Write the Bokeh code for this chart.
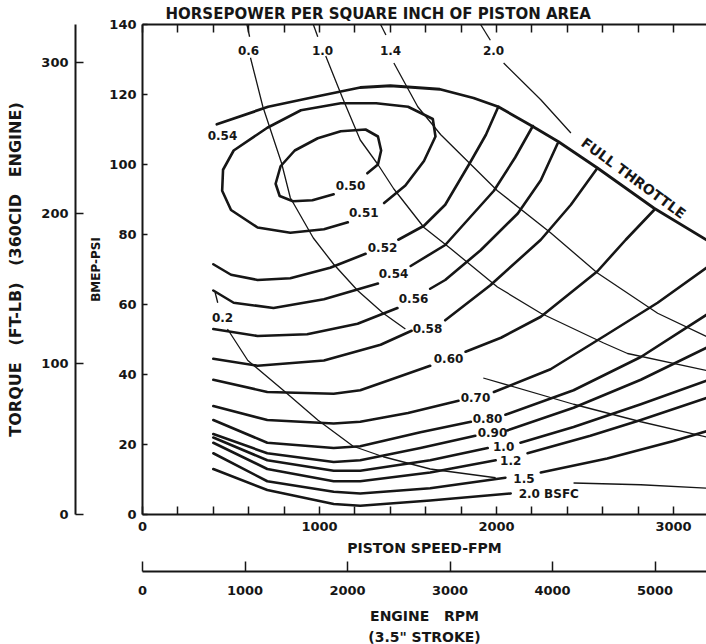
from bokeh.plotting import figure
from bokeh.models import Range1d, LinearAxis, FixedTicker, ColumnDataSource
from bokeh.layouts import row, column
from bokeh.core.properties import value
from bokeh.embed import file_html
from bokeh.resources import INLINE

FONT = "DejaVu Sans"
INK = "#161616"
NB = "\u00a0"

# ------------------------------------------------------------------ data
# axis ticks
piston_major = [0, 1000, 2000, 3000]
piston_minor = [200, 400, 600, 800, 1200, 1400, 1600, 1800, 2200, 2400, 2600, 2800, 3200]
top_ticks = [0, 200, 400, 600, 800, 1000, 1200, 1400, 1600, 1800, 2000, 2200, 2400,
             2600, 2800, 3000, 3200]
bmep_ticks = [0, 20, 40, 60, 80, 100, 120, 140]
torque_ticks = [0, 100, 200, 300]
rpm_ticks = [0, 1000, 2000, 3000, 4000, 5000]

# full throttle line (piston speed fpm, bmep psi)
wot_fpm = [420, 710, 990, 1230, 1400, 1680, 1870, 2010, 2200, 2350, 2570, 2890, 3200]
wot_bmep = [111.5, 116.5, 119.5, 122, 122.5, 121.5, 119, 116.5, 111, 106.5, 99, 87.5, 78]

# BSFC contours
b050_fpm = [1270, 1330, 1348, 1330, 1260, 1120, 990, 860, 780, 752, 775, 850, 960, 1080]
b050_bmep = [97.5, 100, 104, 108, 110, 109.5, 107.5, 104, 99.5, 94.5, 91, 89.5, 89.8, 91.5]
b051_fpm = [1365, 1485, 1590, 1655, 1640, 1500, 1320, 1120, 895, 705, 515, 455, 450, 500, 650,
            835, 1025, 1160]
b051_bmep = [89, 94, 101, 108, 113, 116.5, 117.5, 117.5, 115.5, 110.5, 104, 98.5, 92.5, 87, 82,
             80.5, 81.5, 83.5]
b052a_fpm = [400, 500, 650, 835, 1060, 1260]
b052a_bmep = [71.5, 68.5, 67, 67.5, 70.5, 74.5]
b052b_fpm = [1445, 1590, 1710, 1850, 1940, 2010]
b052b_bmep = [78.5, 82.5, 88.5, 100.5, 108.5, 116.5]
b054a_fpm = [400, 515, 740, 1025, 1330]
b054a_bmep = [64, 60.5, 59, 61.5, 66]
b054b_fpm = [1515, 1710, 1985, 2105, 2205]
b054b_bmep = [71, 77, 92.5, 102, 111]
b056a_fpm = [400, 650, 930, 1215, 1440]
b056a_bmep = [53, 51, 51.5, 54.5, 59]
b056b_fpm = [1625, 1710, 1910, 2120, 2250, 2345]
b056b_bmep = [64.5, 67, 75.5, 86, 95.5, 106]
b058a_fpm = [400, 650, 1025, 1345, 1520]
b058a_bmep = [44.5, 42.5, 44, 48.5, 52.5]
b058b_fpm = [1710, 1965, 2250, 2420, 2570]
b058b_bmep = [55.5, 65.5, 78.5, 88.5, 99]
b060a_fpm = [400, 705, 1080, 1230, 1400, 1625]
b060a_bmep = [38.5, 35, 34.5, 35.5, 38.5, 42.5]
b060b_fpm = [1825, 2025, 2250, 2570, 2730, 2890]
b060b_bmep = [46.5, 50.5, 56.5, 69.5, 78.5, 87]
b070a_fpm = [400, 705, 1080, 1230, 1500, 1785]
b070a_bmep = [31, 27, 26, 26.5, 29, 32.5]
b070b_fpm = [1985, 2305, 2625, 2910, 3200]
b070b_bmep = [35, 41.5, 51.5, 60.5, 71]
b080a_fpm = [400, 705, 1080, 1230, 1570, 1855]
b080a_bmep = [27, 20.5, 19, 19.5, 23.5, 26.5]
b080b_fpm = [2050, 2435, 2815, 3200]
b080b_bmep = [28.5, 35.5, 45, 57.5]
b090a_fpm = [400, 705, 1080, 1230, 1570, 1880]
b090a_bmep = [23, 17.5, 15, 15.5, 19, 22.5]
b090b_fpm = [2060, 2435, 2815, 3200]
b090b_bmep = [24, 30.5, 38.5, 48]
b100a_fpm = [400, 705, 1080, 1230, 1625, 1950]
b100a_bmep = [22, 15.5, 12.5, 12.5, 15.5, 19]
b100b_fpm = [2135, 2435, 2815, 3200]
b100b_bmep = [20.5, 25, 31.5, 38.5]
b120a_fpm = [400, 705, 1080, 1230, 1625, 1995]
b120a_bmep = [20.5, 13, 9.5, 9.5, 12, 15.5]
b120b_fpm = [2175, 2530, 2815, 3200]
b120b_bmep = [17.5, 22.5, 27, 33.5]
b150a_fpm = [400, 705, 1080, 1230, 1625, 2050]
b150a_bmep = [17.5, 9.5, 6.5, 6, 7.5, 10.5]
b150b_fpm = [2250, 2625, 3000, 3200]
b150b_bmep = [12, 16, 21, 24]
b200_fpm = [400, 705, 1080, 1230, 1625, 2080]
b200_bmep = [13, 7, 3, 2.5, 4, 6]

# constant horsepower per square inch lines
hp02s_fpm = [410, 425]
hp02s_bmep = [63.5, 60.5]
hp02a_fpm = [480, 595, 795, 990, 1190, 1360, 1625, 1995]
hp02a_bmep = [53, 44, 35.5, 27, 19.5, 16.5, 13, 10.5]
hp02b_fpm = [2435, 2815, 3200]
hp02b_bmep = [9, 8.5, 7.5]
hp06s_fpm = [590, 605]
hp06s_bmep = [140, 136.5]
hp06a_fpm = [610, 680, 785, 835, 965, 1080, 1215, 1360, 1485]
hp06a_bmep = [130.5, 116.5, 100.5, 90.5, 79, 71.5, 64, 57.5, 53]
hp06b_fpm = [1925, 2435, 2815, 3200]
hp06b_bmep = [39, 31.5, 26.5, 22]
hp10s_fpm = [965, 990]
hp10s_bmep = [140, 136.5]
hp10a_fpm = [1035, 1130, 1230, 1330, 1420, 1590, 1740, 2005, 2250, 2605, 2740, 3200]
hp10a_bmep = [131, 119, 107, 100, 93, 82, 76, 65, 57.5, 49, 46, 41]
hp14s_fpm = [1345, 1375]
hp14s_bmep = [140, 137]
hp14a_fpm = [1420, 1555, 1685, 2005, 2305, 2570, 2910, 3200]
hp14a_bmep = [129, 116.5, 108.5, 92.5, 80.5, 69, 57.5, 50.5]
hp20s_fpm = [1910, 1965]
hp20s_bmep = [140, 135.5]
hp20a_fpm = [2040, 2250, 2420]
hp20a_bmep = [129, 118.5, 109]

# in-chart labels
lab_text = ["0.50", "0.51", "0.52", "0.54", "0.56", "0.58", "0.60", "0.70", "0.80", "0.90",
            "1.0", "1.2", "1.5", "2.0 BSFC", "0.54", "0.2", "0.6", "1.0", "1.4", "2.0"]
lab_fpm = [1175, 1250, 1356, 1418, 1531, 1610, 1729, 1881, 1949, 1977,
           2040, 2080, 2155, 2295, 452, 452, 599, 1017, 1401, 1983]
lab_bmep = [94, 86.3, 76.3, 68.9, 61.7, 53.1, 44.6, 33.4, 27.4, 23.4,
            19.4, 15.4, 10.3, 6, 108.3, 56.3, 132.6, 132.6, 132.6, 132.6]
wot_label = ["FULL THROTTLE"]
wot_label_fpm = [2774]
wot_label_bmep = [96.1]

# ------------------------------------------------------------------ layout
W, H = 706, 644
TL_W = 86
MAIN_W = W - TL_W
MAIN_H = 560
RPM_H = H - MAIN_H
FRAME_TOP = 24
FRAME_BOT = 514
FRAME_LEFT = 142
TORQUE_END = 300 * (FRAME_BOT - FRAME_TOP) / 452.0


def style_axis(ax, size="13px"):
    ax.axis_line_color = INK
    ax.axis_line_width = 2
    ax.major_tick_line_color = INK
    ax.major_tick_line_width = 1.5
    ax.minor_tick_line_color = INK
    ax.minor_tick_line_width = 1.5
    ax.major_label_text_font = FONT
    ax.major_label_text_font_style = "bold"
    ax.major_label_text_font_size = size
    ax.major_label_text_color = INK
    ax.axis_label_text_font = FONT
    ax.axis_label_text_font_style = "bold"
    ax.axis_label_text_color = INK


def base(fig):
    fig.outline_line_color = None
    fig.background_fill_color = "white"
    fig.border_fill_color = "white"
    fig.xgrid.visible = False
    fig.ygrid.visible = False


# torque scale strip
pt = figure(width=TL_W, height=H, x_range=Range1d(0, 1), y_range=Range1d(0, TORQUE_END),
            x_axis_type=None, toolbar_location=None, output_backend="svg",
            min_border_left=75, min_border_right=0, min_border_top=FRAME_TOP,
            min_border_bottom=H - FRAME_BOT)
base(pt)
ay = pt.yaxis[0]
style_axis(ay)
ay.ticker = FixedTicker(ticks=torque_ticks)
ay.major_tick_in = 8
ay.major_tick_out = 0
ay.minor_tick_in = 0
ay.minor_tick_out = 0
ay.major_label_standoff = 7
ay.axis_label = ("TORQUE" + NB * 3 + "(FT-LB)" + NB * 3 + "(360CID" + NB * 3 + "ENGINE)")
ay.axis_label_text_font_size = "16px"
ay.axis_label_standoff = 13

# main chart
p = figure(width=MAIN_W, height=MAIN_H, x_range=Range1d(0, 3186), y_range=Range1d(0, 140),
           toolbar_location=None, output_backend="svg",
           title="HORSEPOWER PER SQUARE INCH OF PISTON AREA",
           min_border_left=FRAME_LEFT - TL_W, min_border_right=0, min_border_top=FRAME_TOP,
           min_border_bottom=MAIN_H - FRAME_BOT)
base(p)
p.title.align = "left"
p.title.offset = 23
p.title.standoff = 3
p.title.text_font = FONT
p.title.text_font_style = "bold"
p.title.text_font_size = "15px"
p.title.text_color = INK

ax = p.xaxis[0]
style_axis(ax)
ax.ticker = FixedTicker(ticks=piston_major, minor_ticks=piston_minor)
ax.major_tick_in = 8
ax.major_tick_out = 0
ax.minor_tick_in = 8
ax.minor_tick_out = 0
ax.major_label_standoff = 7
ax.axis_label = "PISTON SPEED-FPM"
ax.axis_label_text_font_size = "14px"
ax.axis_label_standoff = 6

ly = p.yaxis[0]
style_axis(ly)
ly.ticker = FixedTicker(ticks=bmep_ticks)
ly.major_tick_in = 5
ly.major_tick_out = 0
ly.minor_tick_in = 0
ly.minor_tick_out = 0
ly.major_label_standoff = 6
ly.axis_label = "BMEP-PSI"
ly.axis_label_text_font_size = "12px"
ly.axis_label_standoff = 3

top = LinearAxis(ticker=FixedTicker(ticks=[], minor_ticks=top_ticks))
style_axis(top)
top.major_tick_in = 0
top.major_tick_out = 0
top.minor_tick_in = 8
top.minor_tick_out = 0
top.major_label_standoff = 0
p.add_layout(top, "above")

thick = [(b050_fpm, b050_bmep), (b051_fpm, b051_bmep),
         (b052a_fpm, b052a_bmep), (b052b_fpm, b052b_bmep),
         (b054a_fpm, b054a_bmep), (b054b_fpm, b054b_bmep),
         (b056a_fpm, b056a_bmep), (b056b_fpm, b056b_bmep),
         (b058a_fpm, b058a_bmep), (b058b_fpm, b058b_bmep),
         (b060a_fpm, b060a_bmep), (b060b_fpm, b060b_bmep),
         (b070a_fpm, b070a_bmep), (b070b_fpm, b070b_bmep),
         (b080a_fpm, b080a_bmep), (b080b_fpm, b080b_bmep),
         (b090a_fpm, b090a_bmep), (b090b_fpm, b090b_bmep),
         (b100a_fpm, b100a_bmep), (b100b_fpm, b100b_bmep),
         (b120a_fpm, b120a_bmep), (b120b_fpm, b120b_bmep),
         (b150a_fpm, b150a_bmep), (b150b_fpm, b150b_bmep),
         (b200_fpm, b200_bmep)]
thin = [(hp02s_fpm, hp02s_bmep), (hp02a_fpm, hp02a_bmep), (hp02b_fpm, hp02b_bmep),
        (hp06s_fpm, hp06s_bmep), (hp06a_fpm, hp06a_bmep), (hp06b_fpm, hp06b_bmep),
        (hp10s_fpm, hp10s_bmep), (hp10a_fpm, hp10a_bmep),
        (hp14s_fpm, hp14s_bmep), (hp14a_fpm, hp14a_bmep),
        (hp20s_fpm, hp20s_bmep), (hp20a_fpm, hp20a_bmep)]

p.multi_line(xs=[list(a) for a, b in thin], ys=[list(b) for a, b in thin],
             line_color=INK, line_width=1.3, line_join="round")
p.multi_line(xs=[list(a) for a, b in thick], ys=[list(b) for a, b in thick],
             line_color=INK, line_width=2.6, line_join="round", line_cap="round")
p.line(wot_fpm, wot_bmep, line_color=INK, line_width=2.8, line_join="round", line_cap="round")

src = ColumnDataSource(dict(x=lab_fpm, y=lab_bmep, t=lab_text))
p.text(x="x", y="y", text="t", source=src, text_font=value(FONT), text_font_style="bold",
       text_font_size="12px", text_color=INK, text_align="center", text_baseline="middle")
p.text(x=wot_label_fpm, y=wot_label_bmep, text=wot_label, angle=-0.635,
       text_font=value(FONT), text_font_style="bold", text_font_size="14px",
       text_color=INK, text_align="center", text_baseline="middle")

# engine rpm scale
pr = figure(width=MAIN_W, height=RPM_H, x_range=Range1d(0, 5502), y_range=Range1d(0, 1),
            y_axis_type=None, toolbar_location=None, output_backend="svg",
            title='(3.5" STROKE)', title_location="below",
            min_border_left=FRAME_LEFT - TL_W, min_border_right=0, min_border_top=0,
            min_border_bottom=RPM_H - 11)
base(pr)
pr.title.align = "center"
pr.title.standoff = 0
pr.title.text_font = FONT
pr.title.text_font_style = "bold"
pr.title.text_font_size = "14px"
pr.title.text_color = INK
ar = pr.xaxis[0]
style_axis(ar)
ar.ticker = FixedTicker(ticks=rpm_ticks)
ar.major_tick_in = 10
ar.major_tick_out = 0
ar.minor_tick_in = 0
ar.minor_tick_out = 0
ar.major_label_standoff = 14
ar.axis_label = "ENGINE" + NB * 3 + "RPM"
ar.axis_label_text_font_size = "14px"
ar.axis_label_standoff = 10

layout = row(pt, column(p, pr))
open("out.html", "w").write(file_html(layout, INLINE))
